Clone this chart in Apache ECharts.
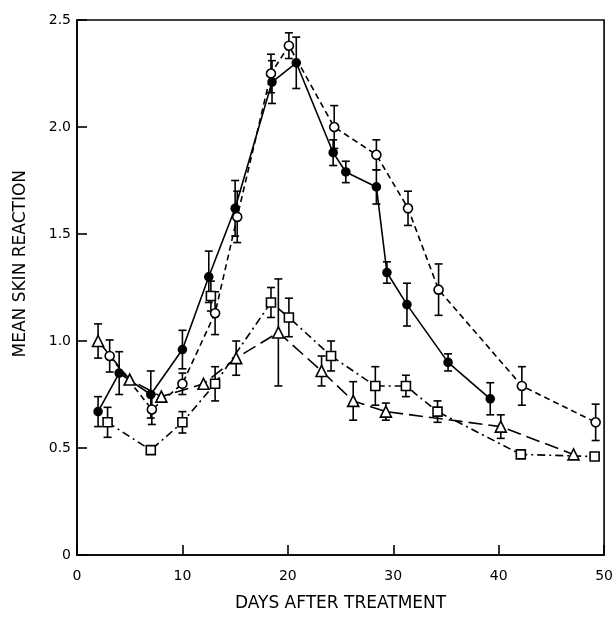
<!DOCTYPE html>
<html>
<head>
<meta charset="utf-8">
<script src="https://cdn.jsdelivr.net/npm/echarts@6/dist/echarts.min.js"></script>
<style>
html,body{margin:0;padding:0;background:#fff;}
#chart{width:616px;height:624px;}
</style>
</head>
<body>
<div id="chart"></div>
<script>
// ---- data ----
const xTicks = [0, 10, 20, 30, 40, 50];
const yTicks = [0, 0.5, 1.0, 1.5, 2.0, 2.5];
const xTitle = 'DAYS AFTER TREATMENT';
const yTitle = 'MEAN SKIN REACTION';

// filled circles, solid line
const filledDays = [2, 4, 7, 10, 12.5, 15, 18.5, 20.8, 24.3, 25.5, 28.4, 29.4, 31.3, 35.2, 39.2];
const filledMean = [0.67, 0.85, 0.75, 0.96, 1.30, 1.62, 2.21, 2.30, 1.88, 1.79, 1.72, 1.32, 1.17, 0.90, 0.73];
const filledErr  = [0.07, 0.10, 0.11, 0.09, 0.12, 0.13, 0.10, 0.12, 0.06, 0.05, 0.08, 0.05, 0.10, 0.04, 0.075];

// open circles, dashed line
const openDays = [3.1, 7.1, 10, 13.1, 15.2, 18.4, 20.1, 24.4, 28.4, 31.4, 34.3, 42.2, 49.2];
const openMean = [0.93, 0.68, 0.80, 1.13, 1.58, 2.25, 2.38, 2.00, 1.87, 1.62, 1.24, 0.79, 0.62];
const openErr  = [0.075, 0.07, 0.05, 0.10, 0.12, 0.09, 0.06, 0.10, 0.07, 0.08, 0.12, 0.09, 0.085];

// open squares, dash-dot line
const squareDays = [2.9, 7.0, 10, 13.1, 18.4, 20.1, 24.1, 28.3, 31.2, 34.2, 42.1, 49.1];
const squareMean = [0.62, 0.49, 0.62, 0.80, 1.18, 1.11, 0.93, 0.79, 0.79, 0.67, 0.47, 0.46];
const squareErr  = [0.07, 0, 0.05, 0.08, 0.07, 0.09, 0.07, 0.09, 0.05, 0.05, 0, 0];

// extra isolated square point
const extraDays = [12.7];
const extraMean = [1.21];
const extraErr  = [0.07];

// open triangles, long-dash line
const triDays = [2, 5, 8, 12, 15.1, 19.1, 23.2, 26.2, 29.3, 40.2, 47.1];
const triMean = [1.00, 0.82, 0.74, 0.80, 0.92, 1.04, 0.86, 0.72, 0.67, 0.60, 0.47];
const triErr  = [0.08, 0, 0, 0, 0.08, 0.25, 0.07, 0.09, 0.04, 0.055, 0];

// ---- build ----
function pts(d, m) { return d.map((x, i) => [x, m[i]]); }
function errPts(d, m, e) {
  const out = [];
  d.forEach((x, i) => { if (e[i] > 0) out.push([x, m[i] - e[i], m[i] + e[i]]); });
  return out;
}
function errSeries(data) {
  return {
    type: 'custom',
    data: data,
    z: 1,
    silent: true,
    renderItem: function (params, api) {
      const x = api.value(0);
      const lo = api.coord([x, api.value(1)]);
      const hi = api.coord([x, api.value(2)]);
      const cw = 4;
      const st = { stroke: '#000', lineWidth: 1.6 };
      return {
        type: 'group',
        children: [
          { type: 'line', shape: { x1: lo[0], y1: lo[1], x2: hi[0], y2: hi[1] }, style: st },
          { type: 'line', shape: { x1: lo[0] - cw, y1: lo[1], x2: lo[0] + cw, y2: lo[1] }, style: st },
          { type: 'line', shape: { x1: hi[0] - cw, y1: hi[1], x2: hi[0] + cw, y2: hi[1] }, style: st }
        ]
      };
    }
  };
}
function lineSeries(data, symbol, size, fill, dash) {
  return {
    type: 'line',
    data: data,
    symbol: symbol,
    symbolSize: size,
    showAllSymbol: true,
    z: 3,
    lineStyle: { color: '#000', width: 1.6, type: dash },
    itemStyle: { color: fill, borderColor: '#000', borderWidth: 1.6 },
    emphasis: { disabled: true },
    animation: false
  };
}

const font = 'DejaVu Sans';
const chart = echarts.init(document.getElementById('chart'), null, { renderer: 'canvas' });
chart.setOption({
  animation: false,
  backgroundColor: '#fff',
  grid: { left: 77, right: 11, top: 20, bottom: 69, show: true, borderColor: '#000', borderWidth: 1.6, backgroundColor: 'transparent' },
  graphic: [{
    type: 'text', left: 12, top: 170,
    rotation: Math.PI / 2, originX: 0, originY: 0,
    style: { text: yTitle, font: '17px "DejaVu Sans"', fill: '#000' },
    z: 10
  }],
  xAxis: {
    type: 'value', min: 0, max: 50, interval: 10,
    name: xTitle, nameLocation: 'middle', nameGap: 40,
    nameTextStyle: { fontFamily: font, fontSize: 17, color: '#000' },
    axisLine: { lineStyle: { color: '#000', width: 1.6 } },
    axisTick: { inside: true, length: 10, lineStyle: { color: '#000', width: 1.6 } },
    axisLabel: { fontFamily: font, fontSize: 14, color: '#000', margin: 14,
      formatter: v => String(v) },
    splitLine: { show: false }
  },
  yAxis: {
    type: 'value', min: 0, max: 2.5, interval: 0.5,
    axisLine: { lineStyle: { color: '#000', width: 1.6 } },
    axisTick: { inside: true, length: 10, lineStyle: { color: '#000', width: 1.6 } },
    axisLabel: { fontFamily: font, fontSize: 14, color: '#000', margin: 6,
      formatter: v => (v === 0 ? '0' : v.toFixed(1)) },
    splitLine: { show: false }
  },
  series: [
    errSeries(errPts(filledDays, filledMean, filledErr)),
    errSeries(errPts(openDays, openMean, openErr)),
    errSeries(errPts(squareDays, squareMean, squareErr)),
    errSeries(errPts(extraDays, extraMean, extraErr)),
    errSeries(errPts(triDays, triMean, triErr)),
    lineSeries(pts(triDays, triMean), 'triangle', 11, '#fff', [14, 6]),
    lineSeries(pts(squareDays, squareMean), 'rect', 9, '#fff', [8, 4, 2, 4]),
    lineSeries(pts(openDays, openMean), 'circle', 9, '#fff', [6, 4]),
    lineSeries(pts(filledDays, filledMean), 'circle', 8, '#000', 'solid'),
    Object.assign(lineSeries(pts(extraDays, extraMean), 'rect', 9, '#fff', 'solid'), { lineStyle: { width: 0 } })
  ]
});
</script>
</body>
</html>
